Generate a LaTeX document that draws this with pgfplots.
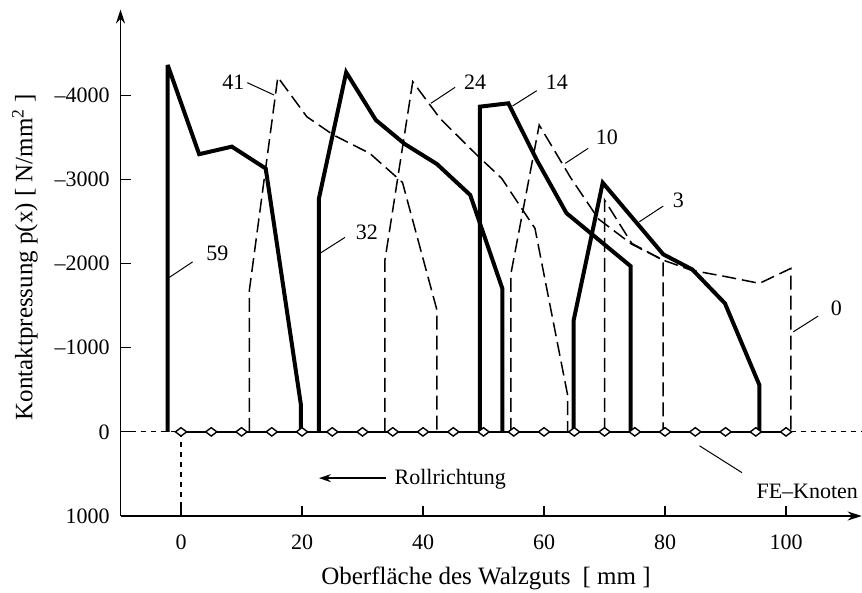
\documentclass[border=0pt]{standalone}
\usepackage{fontspec}
\setmainfont{Liberation Serif}
\usepackage{pgfplots}
\pgfplotsset{compat=1.18}
\usetikzlibrary{arrows.meta}

\pgfplotstableread{
x y
-2.2 0
-2.2 -4360
3.0 -3300
8.4 -3390
14.0 -3130
19.8 -330
19.8 0
}\tabA
\pgfplotstableread{
x y
11.3 0
11.3 -1685
16.0 -4215
20.8 -3745
25.2 -3528
31.2 -3310
36.6 -2965
42.3 -1447
42.3 0
}\tabB
\pgfplotstableread{
x y
22.8 0
22.8 -2775
27.3 -4273
32.2 -3706
37.0 -3420
42.3 -3183
47.8 -2815
53.1 -1705
53.1 0
}\tabC
\pgfplotstableread{
x y
33.7 0
33.7 -2040
38.3 -4162
42.8 -3726
48.9 -3290
53.0 -3013
58.5 -2418
63.9 -436
63.9 0
}\tabD
\pgfplotstableread{
x y
49.4 0
49.4 -3865
54.1 -3905
58.8 -3231
63.7 -2600
74.3 -1970
74.3 0
}\tabE
\pgfplotstableread{
x y
54.5 0
54.5 -1870
59.2 -3647
64.4 -3020
69.0 -2530
74.5 -2230
79.7 -2040
79.7 0
}\tabF
\pgfplotstableread{
x y
64.9 0
64.9 -1328
69.7 -2961
79.7 -2110
84.5 -1930
89.9 -1527
95.6 -555
95.6 0
}\tabG
\pgfplotstableread{
x y
70.0 0
70.0 -2755
74.5 -2240
79.7 -2041
84.4 -1920
90.2 -1843
95.6 -1765
100.8 -1943
100.8 0
}\tabH

\begin{document}
\begin{tikzpicture}
\useasboundingbox (-60.25pt,-38.5pt) rectangle (370.75pt,258pt);
\begin{axis}[
  at={(0,0)}, anchor=south west,
  scale only axis, width=370.6pt, height=253.25pt,
  xmin=-10, xmax=112.5, ymin=-5020, ymax=1000, y dir=reverse,
  axis lines=left,
  x axis line style={line width=0.8pt, -{Stealth[length=7pt,width=4.5pt]}},
  y axis line style={line width=0.8pt, {Stealth[length=7pt,width=4.5pt]}-},
  clip=false,
  tick align=inside, major tick length=5pt,
  tick style={black, line width=0.6pt},
  xtick={0,20,40,60,80,100},
  xticklabels={0,20,40,60,80,100},
  ytick={-4000,-3000,-2000,-1000,0,1000},
  yticklabels={–4000,–3000,–2000,–1000,0\hspace{10.5pt},1000\hspace{2.5pt}},
  tick label style={font=\fontsize{11}{13}\selectfont},
  xticklabel style={yshift=-5.8pt},
  yticklabel style={xshift=-1.9pt},
  thk/.style={black, line width=2pt, line join=miter, miter limit=4},
  dsh/.style={black, line width=0.75pt, dash pattern=on 7pt off 3pt},
]
% zero line and x=0 marker
\addplot[black, line width=0.6pt, dash pattern=on 2.5pt off 2.5pt] coordinates {(-10,0) (112.5,0)};
\addplot[black, line width=0.6pt, dash pattern=on 2.5pt off 2.5pt] coordinates {(0,0) (0,1000)};

\addplot[thk] table[x=x,y=y] {\tabA};
\addplot[dsh] table[x=x,y=y] {\tabB};
\addplot[thk] table[x=x,y=y] {\tabC};
\addplot[dsh] table[x=x,y=y] {\tabD};
\addplot[thk] table[x=x,y=y] {\tabE};
\addplot[dsh] table[x=x,y=y] {\tabF};
\addplot[thk] table[x=x,y=y] {\tabG};
\addplot[dsh] table[x=x,y=y] {\tabH};

% FE nodes
\addplot[black, line width=0.7pt, mark=diamond*, mark size=2.8pt,
  mark options={fill=white, rotate=90, solid, line width=0.7pt}]
  coordinates {(0,0)(5,0)(10,0)(15,0)(20,0)(25,0)(30,0)(35,0)(40,0)(45,0)(50,0)
  (55,0)(60,0)(65,0)(70,0)(75,0)(80,0)(85,0)(90,0)(95,0)(100,0)};

% leader lines
\draw[line width=0.5pt] (axis cs:10.96,-4150) -- (axis cs:15.37,-4004);
\draw[line width=0.5pt] (axis cs:1.93,-2021) -- (axis cs:-1.93,-1836);
\draw[line width=0.5pt] (axis cs:27.1,-2311) -- (axis cs:23.1,-2128);
\draw[line width=0.5pt] (axis cs:45.3,-4095) -- (axis cs:41.3,-3905);
\draw[line width=0.5pt] (axis cs:58.8,-4055) -- (axis cs:54.8,-3873);
\draw[line width=0.5pt] (axis cs:67.3,-3370) -- (axis cs:63.5,-3191);
\draw[line width=0.5pt] (axis cs:79.7,-2684) -- (axis cs:75.75,-2497);
\draw[line width=0.5pt] (axis cs:105.3,-1376) -- (axis cs:101.2,-1189);
\draw[line width=0.5pt] (axis cs:92.7,484) -- (axis cs:85.7,166);

\begin{scope}[every node/.style={font=\fontsize{11}{13}\selectfont, inner sep=0pt}]
\node at (axis cs:8.64,-4150) {41};
\node at (axis cs:6.0,-2121) {59};
\node at (axis cs:30.7,-2371) {32};
\node at (axis cs:48.6,-4150) {24};
\node at (axis cs:62.1,-4150) {14};
\node at (axis cs:70.4,-3501) {10};
\node at (axis cs:82.2,-2755) {3};
\node at (axis cs:108.3,-1467) {0};
\node at (axis cs:103.5,705) {FE–Knoten};
\node at (axis cs:44.5,559) {Rollrichtung};
\end{scope}
\draw[line width=0.8pt, -{Stealth[length=6pt,width=4pt]}] (axis cs:33.85,550) -- (axis cs:22.8,550);

\node[font=\fontsize{12.5}{15}\selectfont] at (axis cs:50.4,1741) {Oberfläche des Walzguts\hspace{6pt}[ mm ]};
\node[rotate=90, font=\fontsize{12.5}{15}\selectfont] at (axis cs:-25.8,-2077) {Kontaktpressung p(x) [ N/mm\textsuperscript{2} ]};
\end{axis}
\end{tikzpicture}
\end{document}
